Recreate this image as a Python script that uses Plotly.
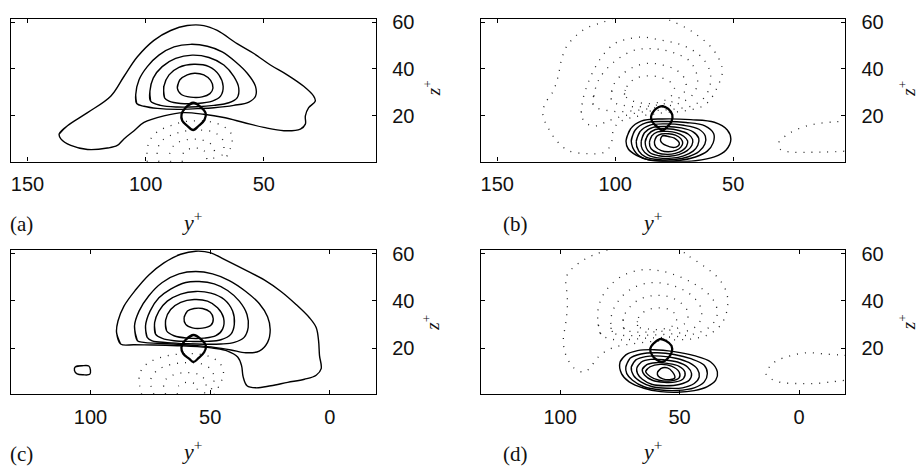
import plotly.graph_objects as go

# ---------------- data (y+, z+) pairs ----------------
# Panel (a)
A_SOLID = [
    [(136.6,12.3),(133.1,15.8),(124.6,21.4),(114.8,28.4),(109.2,36.8),(103.5,45.2),(96.5,52.2),(89.4,56.4),
     (82.4,58.5),(75.4,58.5),(69.7,56.4),(61.3,50.8),(54.2,46.6),(47.2,41.7),(40.1,37.5),(33.1,32.6),(28.9,28.4),
     (28.2,26.3),(31.0,23.5),(32.4,20.0),(32.4,16.5),(34.5,14.4),(41.5,13.7),(50.0,15.1),(58.5,17.2),(66.9,19.3),
     (75.4,20.7),(83.8,21.4),(92.3,20.0),(100.7,17.2),(104.9,13.7),(109.2,10.2),(112.0,7.4),(116.2,6.3),
     (124.6,5.7),(131.7,7.4),(135.9,10.2)],
    [(103.8,25.3),(104.2,29.1),(102.8,35.4),(99.3,41.0),(94.4,45.9),(88.0,49.4),(81.0,50.5),(73.9,49.7),(67.6,47.3),
     (62.0,43.1),(57.0,38.2),(53.5,32.6),(53.5,28.4),(56.3,25.9),(62.7,24.5),(71.1,23.5),(78.2,23.1),(86.6,22.8),
     (95.1,23.2),(100.7,24.1)],
    [(97.9,26.3),(98.2,30.5),(96.8,36.1),(93.0,41.0),(87.3,44.5),(80.3,45.9),(73.2,44.9),(66.9,41.7),(62.7,36.8),
     (60.6,31.9),(61.3,27.7),(64.8,25.6),(71.1,24.5),(78.2,23.9),(86.6,23.8),(93.7,24.5)],
    [(92.0,27.7),(92.3,32.6),(90.1,37.5),(85.9,40.7),(79.6,42.0),(73.2,41.0),(69.0,37.5),(67.2,32.6),(68.3,28.4),
     (71.8,26.3),(78.2,25.3),(85.2,25.3),(90.1,26.3)],
    [(86.6,31.9),(85.5,35.4),(82.4,37.5),(79.3,38.2),(75.4,37.5),(72.5,35.1),(71.5,31.9),(72.8,29.5),(76.1,28.1),
     (81.0,28.0),(84.9,29.1)],
]
A_LENS = [(79.9,25.6),(83.1,23.5),(84.8,20.7),(84.5,17.9),(82.4,15.8),(79.9,14.0),(77.5,15.8),(75.1,18.3),
          (74.6,21.1),(76.8,23.9)]
A_DOTTED = [
    [(99.3,0.4),(99.3,6.0),(97.9,10.2),(94.4,13.7),(89.4,15.8),(83.8,17.5),(78.2,17.9),(72.5,17.5),(67.6,15.8),
     (64.1,13.0),(63.4,8.8),(64.8,4.6),(66.9,0.4)],
    [(94.4,0.4),(95.1,5.3),(93.0,9.5),(88.0,12.3),(82.4,13.7),(76.8,14.0),(71.1,13.0),(67.6,10.2),(66.9,6.0),(69.0,0.4)],
    [(89.4,0.4),(89.7,4.6),(87.3,8.1),(82.4,9.9),(76.8,9.9),(72.5,8.1),(70.8,4.6),(71.8,0.4)],
    [(84.5,0.4),(83.8,4.6),(79.6,6.3),(75.4,5.3),(73.9,0.4)],
]

# Panel (b)
B_SOLID = [
    [(95.4,9.5),(93.5,14.5),(89,17.8),(80,18.7),(68,18.4),(58,17.3),(52.5,14),(51,10),(53,5.5),(58,2.5),(66,0.9),
     (76,0.5),(85,1.1),(91,3.2),(94.5,6)],
    [(93.2,9.3),(91.5,14),(87,17),(79,17.6),(70,17.2),(62,15.8),(58.3,12.5),(58.5,8.5),(61,5),(66,2.5),(73,1.0),
     (80,0.8),(87,1.6),(91,4)],
    [(91.1,9),(89.5,13.3),(85.5,16),(79,16.6),(71,16.0),(64.5,14.3),(61.8,11.3),(62,8),(64.5,4.8),(69,2.6),(75,1.4),
     (81,1.3),(87,2.4),(90,5)],
    [(89,9),(87.6,12.8),(84,15.1),(78.5,15.5),(72,14.9),(67,13.2),(64.6,10.5),(65,7.5),(67,5),(71,3),(76,2),(81,2),
     (86,3.3),(88.5,5.8)],
    [(87.3,8.8),(86,12.1),(83,14.2),(78,14.5),(73,13.8),(69,12.2),(67.2,10),(67.5,7.5),(69.5,5.2),(73,3.5),(77,2.8),
     (81.5,3),(85.5,4.5)],
    [(85.5,8.8),(84.5,11.5),(82,13.2),(78,13.4),(74,12.8),(71,11.3),(69.3,9.3),(69.8,7),(71.5,5.3),(74.5,4),(78,3.6),
     (82,4.2),(84.8,6)],
    [(83.4,9),(82.5,11.2),(80.5,12.3),(77.5,12.4),(74.5,11.8),(72.2,10.3),(71.4,8.5),(72.2,6.7),(74.3,5.3),(77.5,4.7),
     (80.5,5.2),(82.8,6.8)],
    [(79.9,11.6),(77.4,11.2),(74.9,10.5),(72.8,8.1),(74.2,6.7),(78.5,7.4),(80.8,9.5)],
]
B_LENS = [(79.9,24.2),(77.5,23),(75.8,20.5),(76.2,17.5),(78.3,15),(79.9,13.8),(82,15.2),(84.3,17.5),(84.8,19.8),
          (83.3,22.5),(81.5,23.8)]
B_DOTTED_OPEN = [
    [(101.0,61.6),(105.2,59.9),(111.5,57.8),(116.5,54.3),(120.7,49.4),(122.8,43.8),(124.2,36.8),(126.3,30.5),
     (129.9,24.9),(130.6,20.0),(128.5,15.1),(124.9,9.5),(120.0,5.3),(111.5,3.9),(104.5,4.6),(101.7,8.1),(101.0,13.0),
     (98.9,16.9),(93.2,19.3),(84.8,20.6),(79.2,21.4),(70.7,22.1),(62.3,24.5),(58.7,28.4),(56.6,32.6),(54.8,37.1),
     (54.8,41.0),(56.9,45.9),(60.1,50.1),(65.1,54.3),(69.3,57.1),(74.9,59.9),(79.2,61.6)],
    [(2.0,17.8),(6.6,17.5),(13.0,16.9),(18.6,15.8),(24.2,13.7),(27.7,11.6),(30.6,8.8),(29.9,5.6),(25.6,4.6),
     (18.6,4.5),(10.8,4.6),(2.0,5.0)],
]
B_DOTTED = [
    [(114.4,21.4),(113.7,27.0),(111.5,34.0),(108.7,40.3),(105.2,45.9),(100.3,50.8),(96.1,52.4),(88.7,53.6),
     (81.3,52.4),(73.5,50.8),(67.2,48.0),(62.3,43.8),(59.7,38.2),(60.1,31.9),(63.0,27.0),(67.9,24.2),(73.5,23.1),
     (79.2,22.5),(84.8,22.1),(91.8,21.1),(98.9,19.3),(103.8,17.5),(107.7,15.8),(111.1,16.2),(113.7,18.6)],
    [(109.4,24.9),(108.7,30.5),(106.6,36.1),(102.4,41.3),(97.5,45.2),(91.8,48.0),(85.5,48.7),(79.2,48.0),(73.5,46.3),
     (68.6,43.5),(65.8,38.9),(65.1,34.0),(66.8,29.5),(70.7,26.3),(76.3,24.5),(82.0,23.6),(87.6,22.8),(93.2,22.1),
     (98.9,21.8),(103.8,22.4),(108.0,23.5)],
    [(101.7,27.0),(101.0,32.6),(97.7,37.1),(92.5,40.7),(86.2,42.4),(79.9,41.7),(74.2,39.6),(70.7,36.1),(70.0,31.9),
     (72.1,28.4),(76.3,25.9),(81.3,24.8),(86.9,24.1),(92.5,23.9),(97.7,24.8),(101.0,25.9)],
    [(96.1,29.1),(94.6,33.3),(91.1,36.1),(86.2,37.1),(81.3,36.5),(77.0,34.7),(74.9,31.9),(76.3,28.4),(79.9,26.3),
     (84.8,25.3),(89.7,25.6),(93.9,27.0)],
]

# Panel (c)
C_SOLID = [
    [(87.4,21.8),(89.1,26.7),(88.5,31.5),(86.0,37.8),(81.1,44.7),(75.6,51.0),(69.3,56.1),(62.3,59.7),(56.0,61.0),
     (49.7,60.3),(44.1,57.5),(35.8,53.3),(27.4,48.9),(20.4,44.0),(14.1,38.5),(8.5,32.9),(5.7,28.8),(4.7,23.2),
     (4.3,16.9),(3.6,11.4),(5.7,8.6),(10.6,6.9),(17.6,5.6),(24.6,4.2),(30.9,3.3),(34.6,4.2),(36.2,7.9),(36.9,12.8),
     (38.5,16.3),(42.7,18.8),(48.3,20.0),(55.3,20.7),(63.7,21.1),(73.5,21.4),(81.8,21.5)],
    [(80.4,23.2),(81.6,29.4),(79.7,35.7),(75.6,42.2),(70.0,47.8),(63.0,51.4),(56.0,52.4),(49.0,51.4),(42.0,48.6),
     (35.1,44.0),(29.5,38.9),(26.0,33.3),(24.9,27.8),(26.0,22.5),(29.5,18.8),(35.1,18.1),(41.3,19.3),(48.3,20.4),
     (55.3,21.1),(63.7,21.7),(72.1,22.1),(77.7,22.5)],
    [(76.3,24.6),(77.0,29.4),(75.1,35.7),(71.4,41.3),(66.5,45.0),(60.2,47.8),(54.6,48.2),(48.3,47.2),(42.7,44.4),
     (37.8,39.9),(34.6,34.3),(34.1,28.8),(35.8,24.6),(39.9,22.5),(45.5,21.8),(52.5,21.7),(59.5,21.9),(67.9,22.4),
     (74.2,23.1)],
    [(72.8,26.0),(73.2,30.8),(71.4,35.7),(67.9,39.9),(62.3,42.9),(56.0,44.0),(49.7,43.3),(44.1,40.6),(40.6,35.7),
     (39.9,30.1),(41.3,26.0),(45.5,23.6),(51.1,22.9),(58.1,22.9),(65.1,23.2),(70.0,24.2)],
    [(68.2,27.4),(68.6,31.9),(66.5,36.4),(62.3,39.4),(56.7,40.6),(51.1,39.9),(46.9,37.1),(44.4,32.9),(44.8,28.1),
     (47.6,25.3),(52.5,24.3),(59.5,24.3),(65.1,25.3)],
    [(60.9,32.9),(59.5,35.7),(56.7,36.8),(53.2,36.8),(50.0,35.3),(48.7,32.5),(49.7,29.7),(53.2,28.5),(57.4,28.6),
     (60.2,30.1)],
    [(106.3,12.2),(103.5,12.6),(100.7,12.5),(100.0,10.8),(100.3,9.0),(103.0,8.8),(105.6,9.2),(106.7,10.7)],
]
C_LENS = [(57.0,25.6),(60.2,23.6),(62.0,20.4),(61.2,17.6),(58.8,15.6),(57.0,14.2),(54.9,15.8),(52.5,18.3),
          (51.8,21.1),(53.9,23.9)]
C_DOTTED = [
    [(78.6,0.5),(79.7,7.2),(78.4,11.4),(74.9,14.4),(69.3,16.5),(62.3,17.6),(55.3,17.6),(49.7,16.3),(45.8,13.5),
     (44.4,9.3),(45.8,5.1),(48.3,0.5)],
    [(73.5,0.5),(74.9,6.5),(72.1,10.7),(66.5,13.1),(60.2,13.9),(53.9,13.5),(49.7,11.1),(48.3,7.2),(50.4,0.5)],
    [(68.6,0.5),(69.3,5.8),(65.8,8.6),(60.2,9.7),(54.6,8.9),(51.8,5.8),(52.5,0.5)],
    [(63.7,0.5),(63.0,4.4),(59.5,5.6),(56.0,4.7),(55.3,0.5)],
]

# Panel (d)
D_SOLID = [
    [(74.9,14.2),(72.5,17.2),(67.6,19.0),(60.7,19.4),(52.3,18.6),(43.9,16.9),(37.0,14.2),(34.2,10.0),(34.9,6.5),
     (38.4,3.8),(43.9,2.1),(50.9,1.4),(57.9,1.7),(64.9,3.1),(71.1,5.8),(74.3,9.3)],
    [(72.5,12.1),(70.7,15.8),(66.2,17.6),(59.3,18.1),(52.3,17.4),(45.3,15.6),(39.7,12.8),(38.4,9.3),(39.7,5.8),
     (43.9,3.3),(50.9,2.2),(57.9,2.4),(64.9,3.75),(69.7,6.5),(72.1,9.3)],
    [(70.2,12.1),(68.3,15.1),(64.2,16.5),(57.9,16.7),(51.6,15.8),(46.0,13.9),(42.5,11.1),(41.8,7.9),(43.9,5.1),
     (48.8,3.3),(55.1,3.1),(61.4,3.75),(66.2,5.8),(69.3,8.6)],
    [(67.9,11.7),(66.0,14.2),(62.1,15.3),(56.5,15.1),(50.9,14.2),(46.7,12.1),(45.0,9.3),(46.0,6.5),(50.2,4.7),
     (55.8,4.2),(61.4,4.7),(65.6,6.9),(67.6,9.3)],
    [(65.6,11.1),(63.7,13.1),(60.0,13.9),(55.1,13.6),(50.2,12.4),(47.8,10.0),(48.4,7.2),(51.6,5.8),(56.5,5.6),
     (61.4,6.5),(64.6,8.6)],
    [(64.2,10.3),(62.3,12.2),(58.2,13.2),(53.4,12.5),(50.2,10.0),(50.2,7.5),(53.7,6.25),(58.6,6.5),(62.3,8.1)],
    [(59.3,9.7),(57.9,11.4),(55.1,11.7),(53.0,10.0),(52.0,7.5),(53.7,6.8),(57.0,7.1),(58.9,8.2)],
]
D_LENS = [(58.2,23.9),(60.7,22.2),(62.3,19.7),(61.4,16.9),(59.3,14.9),(57.2,14.2),(55.1,15.6),(53.3,18.3),
          (53.4,21.1),(55.8,23.2)]
D_DOTTED_OPEN = [
    [(80.2,61.6),(84.4,60.0),(87.9,58.6),(91.4,56.5),(94.1,54.4),(96.7,51.7),(97.6,48.2),(97.2,44.0),(96.9,39.2),
     (97.2,34.3),(97.8,29.4),(98.6,24.6),(98.3,19.7),(96.9,15.6),(93.9,11.4),(89.7,10.0),(87.2,12.1),(84.7,15.6),
     (81.6,18.3),(77.4,20.4),(70.4,21.8),(62.1,22.8),(53.7,23.5),(45.3,23.9),(38.4,25.6),(34.2,28.3),(31.4,32.2),
     (30.0,37.1),(30.0,41.9),(31.4,46.1),(34.2,50.0),(37.7,53.1),(42.5,56.5),(46.7,59.3),(49.5,61.6)],
    [(-19.5,17.0),(-16.7,17.2),(-10.5,17.6),(-3.5,18.1),(3.5,16.9),(9.1,14.9),(11.9,12.8),(13.9,9.3),(11.9,7.2),
     (7.7,5.6),(0.5,5.1),(-6.5,5.1),(-13.5,5.8),(-19.5,6.5)],
]
D_DOTTED = [
    [(83.0,26.0),(84.1,30.8),(84.1,36.4),(82.3,41.9),(78.8,46.8),(73.2,51.0),(66.2,53.1),(58.6,52.8),(50.9,50.6),
     (43.9,47.2),(38.4,43.3),(34.9,38.5),(34.4,33.6),(37.0,29.4),(41.8,26.7),(48.1,25.3),(56.5,24.6),(64.9,24.2),
     (73.2,23.6),(78.8,23.9)],
    [(78.1,26.9),(78.8,31.5),(77.7,36.4),(74.6,41.3),(69.7,45.4),(63.5,47.5),(57.2,47.5),(50.9,45.8),(45.3,42.6),
     (41.4,37.8),(40.9,32.9),(43.2,29.2),(48.1,26.9),(54.4,26.0),(62.1,25.6),(69.0,25.3),(74.6,25.6)],
    [(73.2,28.1),(73.5,32.9),(71.1,37.1),(66.9,40.6),(61.4,42.2),(55.1,41.9),(49.8,39.4),(46.7,35.7),(47.0,31.5),
     (50.2,28.8),(55.8,27.4),(62.1,26.9),(68.3,26.9)],
    [(67.6,29.4),(66.9,33.6),(63.5,36.1),(58.6,37.1),(53.7,36.1),(51.2,32.9),(52.6,29.7),(57.2,28.1),(62.8,28.1)],
]

X_TICKS_TOP = [150, 100, 50]
X_TICKS_BOTTOM = [100, 50, 0]
Z_TICKS = [20, 40, 60]
X_RANGE_TOP = [157.0, 2.5]
X_RANGE_BOTTOM = [133.2, -19.3]
Z_RANGE = [0.5, 61.5]
PANEL_LABELS = ["(a)", "(b)", "(c)", "(d)"]

# ---------------- figure ----------------
W, H = 918, 470
fig = go.Figure()

SOLID = dict(color="black", width=1.4)
LENS = dict(color="black", width=2.3)
DOT = dict(color="#222222", width=1.3, dash="1px,7px")


def add(pts, ax, line, closed=True):
    xs = [p[0] for p in pts]
    zs = [p[1] for p in pts]
    if closed:
        xs = xs + xs[:2]
        zs = zs + zs[:2]
    fig.add_trace(go.Scatter(x=xs, y=zs, mode="lines", line=dict(shape="spline", smoothing=1.0, **line),
                             xaxis="x" + ax, yaxis="y" + ax, hoverinfo="skip", showlegend=False))


panels = [
    ("", A_SOLID, A_LENS, A_DOTTED, []),
    ("2", B_SOLID, B_LENS, B_DOTTED, B_DOTTED_OPEN),
    ("3", C_SOLID, C_LENS, C_DOTTED, []),
    ("4", D_SOLID, D_LENS, D_DOTTED, D_DOTTED_OPEN),
]
for ax, solid, lens, dotted, dotted_open in panels:
    for c in dotted:
        add(c, ax, DOT, closed=(c[0][1] > 1.0))
    for c in dotted_open:
        add(c, ax, DOT, closed=False)
    for c in solid:
        add(c, ax, SOLID)
    add(lens, ax, LENS)

# panel boxes in pixels
boxes = {
    "": (11, 376, 11.7, 157.0),
    "2": (480.7, 845.3, 11.7, 157.0),
    "3": (11, 376, 246.7, 393.3),
    "4": (480.7, 845.3, 246.7, 393.3),
}
axis_font = dict(family="Liberation Sans, Arial, sans-serif", size=20, color="#111111")
layout = {}
for i, (ax, (l, r, t, b)) in enumerate(boxes.items()):
    top_row = i < 2
    layout["xaxis" + ax] = dict(
        domain=[l / W, r / W], anchor="y" + ax, range=X_RANGE_TOP if top_row else X_RANGE_BOTTOM,
        tickvals=X_TICKS_TOP if top_row else X_TICKS_BOTTOM, ticks="inside", ticklen=4, tickwidth=1,
        tickcolor="black", mirror="allticks", showline=True, linecolor="black", linewidth=1.4,
        showgrid=False, zeroline=False, tickfont=axis_font, ticklabelstandoff=4, fixedrange=True)
    layout["yaxis" + ax] = dict(
        domain=[1 - b / H, 1 - t / H], anchor="x" + ax, range=Z_RANGE, side="right",
        tickvals=Z_TICKS, ticks="inside", ticklen=4, tickwidth=1, tickcolor="black",
        mirror="allticks", showline=True, linecolor="black", linewidth=1.4,
        showgrid=False, zeroline=False, tickfont=axis_font, ticklabelstandoff=11, fixedrange=True)

serif = dict(family="Liberation Serif, Times New Roman, serif", size=21, color="#111111")
serif_lab = dict(family="Liberation Serif, Times New Roman, serif", size=22, color="#111111")
serif_z = dict(family="Liberation Serif, Times New Roman, serif", size=19, color="#111111")
annotations = []
label_pos = [(8, 220.5), (501, 220.5), (8, 454), (501, 454)]
ylab_pos = [(192, 217), (652, 217), (192, 450), (652, 450)]
zlab_pos = [(431.5, 83), (907, 83), (431.5, 321), (907, 320)]
for lab, (lx, ly), (yx, yy), (zx, zy) in zip(PANEL_LABELS, label_pos, ylab_pos, zlab_pos):
    annotations.append(dict(text=lab, x=lx / W, y=1 - ly / H, xref="paper", yref="paper",
                            xanchor="left", yanchor="middle", showarrow=False, font=serif))
    annotations.append(dict(text="<i>y</i><sup>+</sup>", x=yx / W, y=1 - yy / H, xref="paper", yref="paper",
                            xanchor="center", yanchor="middle", showarrow=False, font=serif_lab))
    annotations.append(dict(text="<i>z</i><sup>+</sup>", x=zx / W, y=1 - zy / H, xref="paper", yref="paper",
                            xanchor="center", yanchor="middle", showarrow=False, font=serif_z, textangle=-90))

fig.update_layout(width=W, height=H, margin=dict(l=0, r=0, t=0, b=0), paper_bgcolor="white",
                  plot_bgcolor="white", showlegend=False, annotations=annotations, **layout)
fig.write_html("out.html", config={"displayModeBar": False},
               post_script="document.body.style.margin='0';document.body.style.overflow='hidden';")
